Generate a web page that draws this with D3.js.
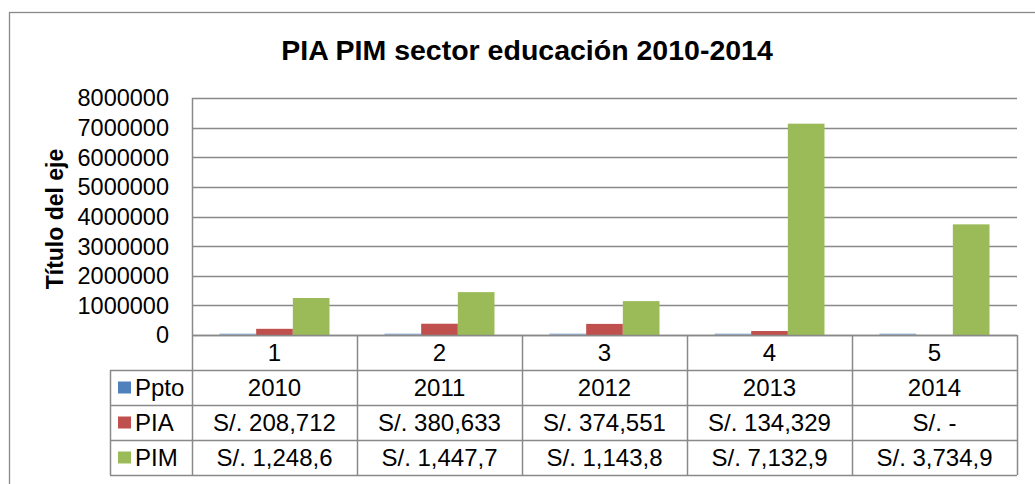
<!DOCTYPE html>
<meta charset="utf-8">
<style>
    html, body { margin: 0; padding: 0; background: #fff; }
    text { font-family: "Liberation Sans", Arial, sans-serif; fill: #000; }
</style>
<script src="https://d3js.org/d3.v7.min.js"></script>
<div id="chart"></div>
<script>
    // data
    const categories = ["1", "2", "3", "4", "5"];
    const seriesNames = ["Ppto", "PIA", "PIM"];
    const ppto = [2010, 2011, 2012, 2013, 2014];
    const pia = [208712, 380633, 374551, 134329, 0];
    const pim = [1248600, 1447700, 1143800, 7132900, 3734900];
    const pptoLabels = ["2010", "2011", "2012", "2013", "2014"];
    const piaLabels = ["S/. 208,712", "S/. 380,633", "S/. 374,551", "S/. 134,329", "S/. -"];
    const pimLabels = ["S/. 1,248,6", "S/. 1,447,7", "S/. 1,143,8", "S/. 7,132,9", "S/. 3,734,9"];
    const yTicks = [0, 1000000, 2000000, 3000000, 4000000, 5000000, 6000000, 7000000, 8000000];

    const seriesValues = [ppto, pia, pim];
    const seriesLabels = [pptoLabels, piaLabels, pimLabels];
    const colors = ["#4F81BD", "#C0504D", "#9BBB59"];
    const gridColor = "#898989";

    const W = 1035, H = 484;
    const plot = {left: 192, right: 1017, top: 98, bottom: 335};
    const legendLeft = 110, rowH = 35;

    const svg = d3.select("#chart").append("svg")
        .attr("width", W).attr("height", H);

    // outer chart border (runs off the picture on right and bottom)
    svg.append("rect")
        .attr("x", 9.5).attr("y", 12.5)
        .attr("width", 1100).attr("height", 600)
        .attr("fill", "none").attr("stroke", gridColor).attr("stroke-width", 1.3);

    // title
    svg.append("text")
        .attr("x", 527).attr("y", 60)
        .attr("text-anchor", "middle")
        .style("font-size", "28.5px").style("font-weight", "bold")
        .text("PIA PIM sector educación 2010-2014");

    const x = d3.scaleBand().domain(categories).range([plot.left, plot.right]);
    const xSub = d3.scaleBand().domain(seriesNames)
        .range([x.bandwidth() / 6, x.bandwidth() * 5 / 6]);
    const y = d3.scaleLinear().domain([0, 8000000]).range([plot.bottom, plot.top]);

    // gridlines
    svg.append("g").selectAll("line").data(yTicks).join("line")
        .attr("x1", plot.left).attr("x2", plot.right)
        .attr("y1", d => Math.round(y(d)) + 0.5).attr("y2", d => Math.round(y(d)) + 0.5)
        .attr("stroke", gridColor).attr("stroke-width", 1.5);

    // y axis line + labels
    svg.append("line")
        .attr("x1", plot.left + 0.5).attr("x2", plot.left + 0.5)
        .attr("y1", plot.top).attr("y2", plot.bottom)
        .attr("stroke", gridColor).attr("stroke-width", 1.5);

    svg.append("g").selectAll("text").data(yTicks).join("text")
        .attr("x", 169).attr("y", d => y(d))
        .attr("dy", "0.36em")
        .attr("text-anchor", "end")
        .style("font-size", "23.5px")
        .text(d => d3.format("d")(d));

    svg.append("text")
        .attr("transform", "translate(63,219) rotate(-90)")
        .attr("text-anchor", "middle")
        .style("font-size", "23px").style("font-weight", "bold")
        .text("Título del eje");

    // bars
    const rows = categories.map((c, i) => ({cat: c, vals: seriesNames.map((s, j) => ({key: s, value: seriesValues[j][i], j}))}));
    svg.append("g").selectAll("g").data(rows).join("g")
        .attr("transform", d => `translate(${x(d.cat)},0)`)
      .selectAll("rect").data(d => d.vals).join("rect")
        .attr("x", d => xSub(d.key))
        .attr("width", xSub.bandwidth())
        .attr("y", d => Math.min(y(d.value), plot.bottom - (d.value > 0 ? 1.5 : 0)))
        .attr("height", d => Math.max(plot.bottom - y(d.value), d.value > 0 ? 1.5 : 0))
        .attr("fill", d => colors[d.j])
        .attr("fill-opacity", d => plot.bottom - y(d.value) < 1 ? 0.5 : 1);

    // data table
    const tableTop = plot.bottom;
    const tableBottom = tableTop + rowH * 4;
    const tg = svg.append("g");

    // horizontal lines
    d3.range(5).forEach(r => {
        const yy = tableTop + r * rowH + 0.5;
        tg.append("line")
            .attr("x1", r === 0 ? plot.left : legendLeft).attr("x2", plot.right)
            .attr("y1", yy).attr("y2", yy)
            .attr("stroke", gridColor).attr("stroke-width", 1.5);
    });
    // vertical lines
    const colEdges = categories.map(c => x(c)).concat([plot.right]);
    tg.selectAll("line.v").data(colEdges).join("line")
        .attr("class", "v")
        .attr("x1", d => d + 0.5).attr("x2", d => d + 0.5)
        .attr("y1", tableTop).attr("y2", tableBottom)
        .attr("stroke", gridColor).attr("stroke-width", 1.5);
    tg.append("line")
        .attr("x1", legendLeft + 0.5).attr("x2", legendLeft + 0.5)
        .attr("y1", tableTop + rowH).attr("y2", tableBottom)
        .attr("stroke", gridColor).attr("stroke-width", 1.5);

    // category row
    tg.selectAll("text.cat").data(categories).join("text")
        .attr("class", "cat")
        .attr("x", d => x(d) + x.bandwidth() / 2)
        .attr("y", tableTop + rowH / 2)
        .attr("dy", "0.36em")
        .attr("text-anchor", "middle")
        .style("font-size", "24px")
        .text(d => d);

    // series rows
    seriesNames.forEach((s, j) => {
        const cy = tableTop + (j + 1) * rowH + rowH / 2;
        tg.append("rect")
            .attr("x", 118).attr("y", cy - 6)
            .attr("width", 13).attr("height", 12)
            .attr("fill", colors[j]);
        tg.append("text")
            .attr("x", 135).attr("y", cy)
            .attr("dy", "0.36em")
            .style("font-size", "24px")
            .text(s);
        tg.selectAll("text.s" + j).data(seriesLabels[j]).join("text")
            .attr("class", "s" + j)
            .attr("x", (d, i) => x(categories[i]) + x.bandwidth() / 2)
            .attr("y", cy)
            .attr("dy", "0.36em")
            .attr("text-anchor", "middle")
            .style("font-size", "24px")
            .text(d => d);
    });
</script>
